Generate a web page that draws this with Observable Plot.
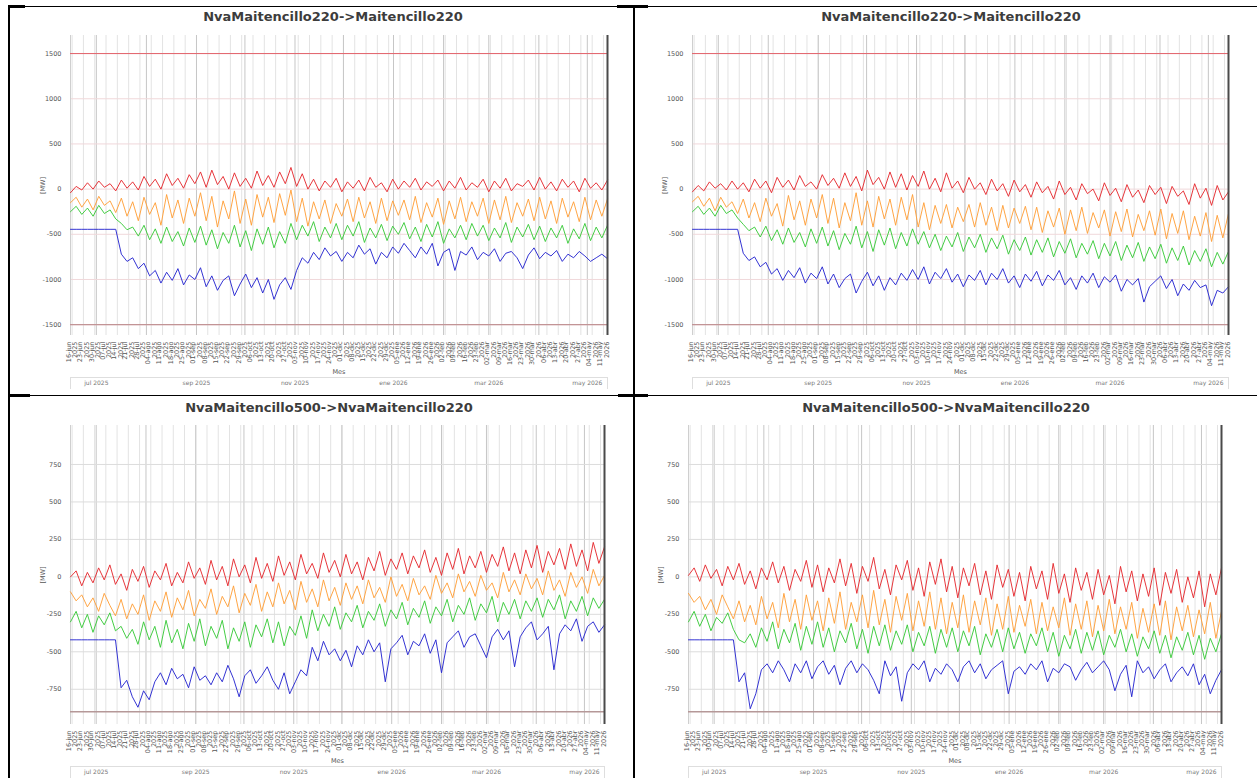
<!DOCTYPE html>
<html><head><meta charset="utf-8">
<script src="https://cdn.jsdelivr.net/npm/d3@7"></script>
<script src="https://cdn.jsdelivr.net/npm/@observablehq/plot@0.6"></script>
<style>
html,body{margin:0;padding:0;background:#fff}
body{width:1257px;height:778px;overflow:hidden;position:relative;font-family:"DejaVu Sans",sans-serif}
.b{position:absolute;background:#000}
.title{position:absolute;font-family:"DejaVu Sans";font-weight:bold;font-size:13px;color:#3c3c3c;transform:translateX(-50%);white-space:nowrap;line-height:14px}
.abs{position:absolute}
</style></head><body>
<div class="b" style="left:8px;top:6px;width:1249px;height:1px"></div>
<div class="b" style="left:8px;top:5px;width:17px;height:3px"></div>
<div class="b" style="left:617px;top:5px;width:31px;height:3px"></div>
<div class="b" style="left:8px;top:6px;width:2px;height:772px"></div>
<div class="b" style="left:633px;top:6px;width:2px;height:772px"></div>
<div class="b" style="left:8px;top:395px;width:1249px;height:1px"></div>
<div class="b" style="left:8px;top:394px;width:22px;height:3px"></div>
<div class="b" style="left:618px;top:394px;width:30px;height:3px"></div>
<div id="root"></div>
<script>
// ---------- data (MW) ----------
const titles = ["NvaMaitencillo220->Maitencillo220","NvaMaitencillo220->Maitencillo220","NvaMaitencillo500->NvaMaitencillo220","NvaMaitencillo500->NvaMaitencillo220"];
const meses = ["ene","feb","mar","abr","may","jun","jul","ago","sep","oct","nov","dic"];
const startDate = "2025-06-15";
const stepDays = 3.5;
const sliderDates = ["2025-07-01","2025-09-01","2025-11-01","2026-01-01","2026-03-01","2026-05-01"];
const sliderLabels = ["jul 2025","sep 2025","nov 2025","ene 2026","mar 2026","may 2026"];
const yTicksTop = [-1500,-1000,-500,0,500,1000,1500];
const yTicksBottom = [-750,-500,-250,0,250,500,750];

const p1Red = [-40,30,-10,70,0,90,20,60,-20,100,10,80,
-10,140,30,110,0,170,40,120,10,160,60,190,
20,210,50,140,0,180,30,120,10,200,40,150,
20,190,60,240,30,170,0,110,-20,90,20,120,
-30,80,10,100,-20,130,20,70,-30,110,0,90,
20,120,-10,80,30,100,-20,90,10,130,-10,70,
20,110,-30,90,10,120,-20,60,30,100,-10,130,
0,80,-20,110,20,90,-30,120,10,70,-10,100];
const p1Orange = [-150,-90,-200,-110,-230,-80,-180,-130,-260,-100,-300,-140,
-350,-90,-280,-150,-400,-60,-320,-120,-380,-100,-300,-40,
-350,-80,-420,-130,-330,-20,-380,-110,-400,-60,-310,-90,
-370,-50,-290,-10,-360,-100,-410,-140,-330,-120,-380,-160,
-300,-110,-360,-90,-320,-140,-380,-100,-350,-130,-290,-120,
-340,-80,-370,-150,-310,-100,-390,-130,-330,-90,-360,-140,
-300,-100,-380,-120,-340,-80,-370,-150,-300,-110,-350,-90,
-330,-130,-380,-100,-310,-140,-360,-90,-340,-120,-300,-110];
const p1Green = [-250,-190,-280,-210,-300,-180,-270,-230,-330,-380,-450,-420,
-520,-400,-560,-440,-600,-420,-580,-470,-630,-430,-590,-410,
-620,-450,-660,-480,-600,-400,-640,-460,-680,-440,-610,-420,
-650,-470,-600,-380,-560,-400,-520,-360,-580,-420,-540,-380,
-560,-400,-520,-360,-590,-430,-540,-390,-570,-410,-500,-370,
-550,-420,-580,-390,-530,-360,-600,-440,-540,-400,-560,-380,
-520,-400,-570,-430,-540,-370,-590,-420,-530,-390,-560,-410,
-580,-430,-540,-400,-600,-440,-550,-380,-570,-420,-540,-400];
const p1Blue = [-445,-445,-445,-445,-445,-445,-445,-445,-445,-720,-800,-760,
-880,-820,-960,-900,-1040,-920,-1010,-880,-1060,-950,-1000,-870,
-1080,-960,-1120,-1010,-960,-1180,-1050,-940,-1090,-980,-1150,-1000,
-1220,-1060,-980,-1110,-900,-760,-820,-700,-780,-650,-740,-690,
-800,-700,-760,-620,-720,-660,-830,-700,-760,-640,-710,-600,
-680,-760,-640,-720,-600,-850,-700,-660,-900,-690,-730,-640,
-780,-700,-740,-660,-800,-710,-690,-760,-880,-730,-650,-770,
-700,-740,-680,-800,-720,-760,-690,-740,-800,-760,-720,-770];

const p2Red = [-30,40,-20,80,10,60,-10,90,0,70,-30,110,
10,90,-40,130,20,100,-10,150,30,80,0,160,
40,120,10,180,30,140,-20,210,50,130,0,190,
20,170,-10,150,30,200,0,120,-30,180,10,90,
-40,130,0,70,-60,110,-20,60,-80,100,-30,50,
-90,80,-40,30,-110,90,-60,20,-120,60,-50,0,
-130,70,-70,10,-140,50,-90,-10,-150,40,-60,20,
-160,30,-80,-20,-170,60,-100,10,-180,40,-120,-30];
const p2Orange = [-140,-80,-190,-100,-240,-90,-200,-140,-270,-110,-320,-150,
-360,-100,-300,-160,-410,-70,-340,-130,-400,-110,-320,-60,
-380,-100,-430,-150,-350,-40,-400,-130,-420,-80,-330,-110,
-400,-90,-340,-60,-420,-150,-450,-180,-380,-170,-430,-200,
-360,-170,-420,-150,-400,-200,-460,-180,-430,-210,-380,-190,
-450,-200,-480,-240,-420,-210,-500,-230,-460,-200,-490,-260,
-430,-230,-520,-250,-470,-220,-530,-280,-460,-240,-510,-220,
-550,-270,-490,-240,-560,-300,-520,-260,-580,-290,-540,-270];
const p2Green = [-250,-190,-280,-210,-300,-180,-270,-230,-320,-390,-460,-420,
-530,-410,-570,-450,-610,-430,-590,-480,-640,-440,-600,-420,
-630,-460,-670,-490,-610,-410,-650,-470,-690,-450,-620,-430,
-660,-480,-630,-440,-610,-470,-650,-500,-680,-520,-640,-480,
-690,-530,-650,-500,-700,-540,-660,-510,-720,-560,-680,-530,
-730,-560,-700,-540,-750,-580,-710,-550,-760,-600,-720,-570,
-770,-600,-740,-580,-790,-620,-760,-590,-800,-640,-770,-610,
-820,-650,-790,-630,-840,-680,-800,-660,-860,-700,-830,-690];
const p2Blue = [-445,-445,-445,-445,-445,-445,-445,-445,-445,-710,-790,-750,
-860,-810,-940,-880,-1010,-900,-980,-870,-1040,-930,-990,-860,
-1050,-940,-1090,-990,-940,-1150,-1020,-920,-1070,-960,-1120,-980,
-1060,-930,-1010,-890,-1000,-860,-1050,-920,-990,-880,-1030,-940,
-1080,-950,-1010,-900,-1060,-930,-1000,-880,-1040,-960,-1090,-940,
-1020,-910,-1070,-950,-1010,-900,-1060,-980,-1110,-960,-1040,-930,
-1090,-970,-1030,-950,-1130,-1000,-1060,-990,-1250,-1080,-1020,-960,
-1100,-1000,-1180,-1050,-1120,-1010,-1090,-1060,-1290,-1120,-1150,-1080];

const p3Red = [0,40,-60,30,-40,60,-20,80,-50,20,-90,50,
-30,70,-70,40,-20,90,-60,30,-40,100,-10,60,
-50,110,-20,70,-60,120,0,80,-40,130,-10,90,
-30,140,10,100,-20,150,20,90,-10,160,30,110,
0,150,20,100,-20,130,40,170,10,120,50,160,
20,140,60,180,30,130,10,160,50,190,20,140,
60,170,30,150,70,200,40,160,20,180,60,210,
30,170,80,190,50,220,70,180,40,230,90,200];
const p3Orange = [-100,-160,-120,-200,-140,-230,-110,-190,-260,-150,-280,-180,
-250,-120,-290,-160,-230,-100,-270,-140,-220,-90,-260,-150,
-210,-80,-250,-130,-200,-60,-240,-110,-190,-50,-230,-100,
-200,-40,-180,-90,-220,-30,-170,-80,-200,-20,-160,-70,
-190,-40,-150,-60,-180,-20,-140,-70,-170,0,-130,-50,
-160,-10,-120,-60,-150,10,-110,-40,-140,20,-100,-30,
-130,10,-90,-40,-140,30,-100,-20,-120,20,-80,-10,
-120,40,-90,-20,-130,30,-70,0,-110,50,-60,10];
const p3Green = [-300,-230,-340,-250,-370,-260,-320,-240,-360,-330,-410,-350,
-450,-300,-420,-330,-470,-290,-440,-350,-480,-310,-430,-280,
-460,-330,-410,-290,-480,-340,-430,-300,-470,-320,-400,-280,
-440,-300,-460,-330,-390,-260,-410,-220,-360,-250,-330,-200,
-350,-240,-300,-190,-340,-230,-290,-180,-330,-220,-280,-170,
-320,-210,-270,-160,-310,-200,-260,-150,-300,-190,-250,-140,
-290,-180,-240,-130,-300,-170,-250,-150,-280,-160,-230,-140,
-270,-150,-220,-120,-280,-160,-230,-130,-260,-140,-210,-150];
const p3Blue = [-420,-420,-420,-420,-420,-420,-420,-420,-420,-740,-690,-800,
-870,-760,-820,-700,-640,-720,-610,-680,-650,-740,-600,-690,
-660,-720,-640,-700,-590,-680,-800,-660,-620,-710,-660,-600,
-690,-750,-640,-780,-700,-620,-660,-470,-560,-430,-520,-480,
-560,-490,-600,-460,-520,-420,-500,-440,-700,-480,-440,-390,
-520,-430,-460,-380,-510,-420,-640,-440,-400,-360,-470,-400,
-380,-460,-540,-400,-350,-420,-360,-600,-400,-340,-300,-420,
-380,-330,-620,-380,-320,-360,-280,-430,-330,-300,-370,-320];

const p4Red = [10,60,-30,80,-10,50,-60,70,-20,90,-50,40,
-80,60,-20,100,-40,70,-90,50,-30,110,-70,80,
-100,60,-40,120,-60,90,-110,70,-30,130,-80,50,
-120,80,-20,110,-90,60,-130,100,-50,120,-100,70,
-140,60,-60,90,-120,40,-150,80,-70,50,-130,30,
-160,70,-80,40,-150,90,-110,20,-170,60,-90,30,
-150,50,-120,10,-180,70,-100,40,-160,20,-130,60,
-190,30,-110,50,-170,0,-140,40,-200,20,-120,60];
const p4Orange = [-110,-170,-130,-220,-150,-250,-120,-200,-280,-160,-300,-190,
-320,-130,-280,-170,-340,-110,-300,-150,-350,-120,-290,-160,
-360,-140,-310,-100,-350,-170,-300,-120,-340,-90,-320,-150,
-370,-130,-290,-110,-360,-160,-330,-100,-350,-140,-380,-170,
-340,-120,-370,-160,-320,-140,-390,-180,-350,-130,-370,-190,
-330,-150,-380,-170,-360,-200,-340,-140,-390,-180,-350,-160,
-400,-190,-360,-150,-380,-200,-350,-170,-410,-210,-370,-180,
-390,-160,-420,-200,-360,-190,-400,-220,-380,-170,-410,-230];
const p4Green = [-300,-230,-330,-250,-360,-270,-310,-240,-350,-420,-440,-380,
-470,-340,-430,-300,-480,-350,-440,-310,-490,-330,-450,-300,
-470,-340,-500,-360,-440,-310,-480,-350,-510,-330,-460,-320,
-490,-360,-450,-320,-500,-370,-460,-330,-510,-350,-470,-340,
-500,-360,-460,-330,-520,-380,-470,-350,-500,-340,-480,-370,
-510,-380,-460,-340,-500,-370,-530,-390,-480,-350,-510,-370,
-490,-360,-520,-390,-470,-350,-500,-380,-530,-400,-480,-360,
-510,-390,-540,-400,-490,-370,-520,-390,-550,-410,-500,-380];
const p4Blue = [-420,-420,-420,-420,-420,-420,-420,-420,-420,-700,-640,-880,
-780,-620,-580,-640,-560,-620,-700,-580,-640,-560,-680,-600,
-560,-650,-590,-720,-610,-560,-640,-580,-620,-690,-780,-560,
-660,-600,-830,-640,-580,-620,-560,-700,-610,-650,-580,-620,
-700,-600,-560,-640,-580,-680,-620,-590,-560,-780,-630,-600,
-650,-580,-620,-560,-700,-610,-640,-580,-600,-690,-620,-570,
-640,-600,-560,-620,-760,-650,-590,-800,-560,-640,-600,-680,
-620,-580,-700,-640,-600,-660,-580,-720,-650,-780,-690,-620];

// ---------- build ----------
const start = new Date(startDate + "T00:00:00Z");
const dates = p1Red.map((_, i) => new Date(+start + i * stepDays * 864e5));
const end = dates[dates.length - 1];
const weekTicks = d3.utcMonday.range(start, end);
const monthTicks = d3.utcMonth.range(start, end);
const sDates = sliderDates.map(s => new Date(s + "T00:00:00Z"));
const fmtTick = d => `${String(d.getUTCDate()).padStart(2,"0")}-${meses[d.getUTCMonth()]}\n${d.getUTCFullYear()}`;

const colors = {red:"#e5262b", orange:"#ff9d35", green:"#35c935", blue:"#2323cf"};

const panels = [
  {L:70, R:607, T:35, B:335, tx:333, ty:10, title:titles[0], red:p1Red, orange:p1Orange, green:p1Green, blue:p1Blue,
   yDomain:[-1620,1700], yTicks:yTicksTop, grid:"#f0d8da", limits:[{v:1500,c:"#e2636b",w:1},{v:-1500,c:"#c29496",w:1.2}]},
  {L:692, R:1228, T:35, B:335, tx:951, ty:10, title:titles[1], red:p2Red, orange:p2Orange, green:p2Green, blue:p2Blue,
   yDomain:[-1620,1700], yTicks:yTicksTop, grid:"#f0d8da", limits:[{v:1500,c:"#e2636b",w:1},{v:-1500,c:"#c29496",w:1.2}]},
  {L:70, R:604, T:425, B:724, tx:329, ty:401, title:titles[2], red:p3Red, orange:p3Orange, green:p3Green, blue:p3Blue,
   yDomain:[-985,1010], yTicks:yTicksBottom, grid:"#dcdcdc", limits:[{v:-900,c:"#b59898",w:1.5}]},
  {L:688, R:1221, T:425, B:724, tx:946, ty:401, title:titles[3], red:p4Red, orange:p4Orange, green:p4Green, blue:p4Blue,
   yDomain:[-985,1010], yTicks:yTicksBottom, grid:"#dcdcdc", limits:[{v:-900,c:"#b59898",w:1.5}]}
];

const root = document.getElementById("root");
for (const p of panels) {
  const mL = 60, mR = 15, mT = 5, mB = 45;
  const w = p.R - p.L + mL + mR, h = p.B - p.T + mT + mB;
  const t = document.createElement("div");
  t.className = "title"; t.style.left = p.tx + "px"; t.style.top = p.ty + "px"; t.textContent = p.title;
  root.appendChild(t);

  const lineMark = (vals, c) => Plot.line(vals.map((v, i) => ({date: dates[i], v})), {x:"date", y:"v", stroke:c, strokeWidth:1, strokeOpacity:0.92});
  const svg = Plot.plot({
    width: w, height: h, marginLeft: mL, marginRight: mR, marginTop: mT, marginBottom: mB,
    style: {fontFamily: "DejaVu Sans", fontSize: "6.5px", color: "#555", background: "transparent", overflow: "visible"},
    x: {type: "utc", domain: [start, end], ticks: weekTicks, tickFormat: fmtTick, tickRotate: -90, tickSize: 0, tickPadding: 6,
        label: "Mes", labelAnchor: "center", labelOffset: 38, labelArrow: "none"},
    y: {domain: p.yDomain, ticks: p.yTicks, tickSize: 0, tickPadding: 9, tickFormat: d => String(d),
        label: "[MW]", labelAnchor: "center", labelOffset: 30, labelArrow: "none"},
    marks: [
      Plot.gridX(weekTicks, {stroke: "#e3e3e3", strokeOpacity: 1}),
      Plot.gridX(monthTicks, {stroke: "#c6c6c6", strokeOpacity: 1}),
      Plot.gridY(p.yTicks, {stroke: p.grid, strokeOpacity: 1}),
      Plot.ruleX([start], {stroke: "#cfcfcf"}),
      ...p.limits.map(l => Plot.ruleY([l.v], {stroke: l.c, strokeWidth: l.w})),
      lineMark(p.blue, colors.blue),
      lineMark(p.green, colors.green),
      lineMark(p.orange, colors.orange),
      lineMark(p.red, colors.red),
      Plot.ruleX([end], {stroke: "#4a4a4a", strokeWidth: 2})
    ]
  });
  svg.style.position = "absolute";
  svg.style.left = (p.L - mL) + "px";
  svg.style.top = (p.T - mT) + "px";
  root.appendChild(svg);

  const slider = Plot.plot({
    width: w, height: 12, marginLeft: mL, marginRight: mR, marginTop: 0, marginBottom: 0,
    style: {fontFamily: "DejaVu Sans", fontSize: "6px", color: "#777", background: "transparent"},
    x: {type: "utc", domain: [start, end], axis: null},
    marks: [
      Plot.frame({stroke: "#dedede"}),
      Plot.text(sDates, {x: d => d, text: (d, i) => sliderLabels[i], fill: "#777", fontSize: 6})
    ]
  });
  slider.style.position = "absolute";
  slider.style.left = (p.L - mL) + "px";
  slider.style.top = (p.B + 42) + "px";
  root.appendChild(slider);
}
</script>
</body></html>
